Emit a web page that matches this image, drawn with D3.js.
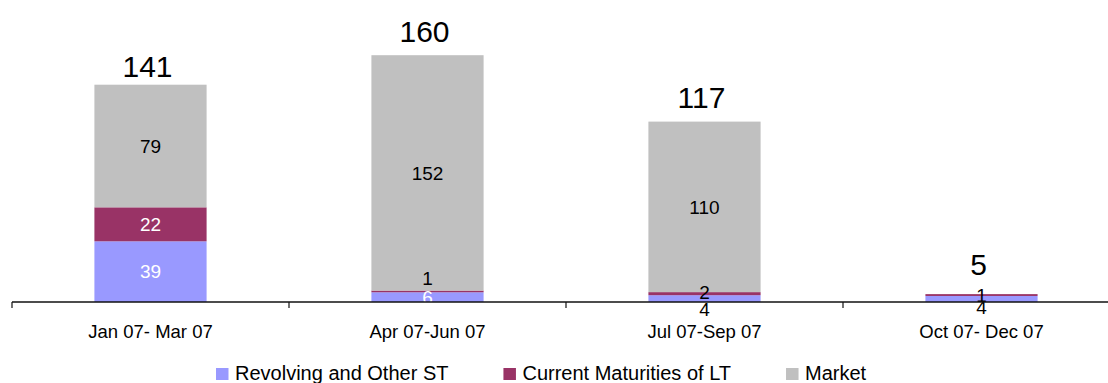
<!DOCTYPE html>
<html lang="en">
<head>
    <meta charset="UTF-8">
    <title>Debt by Quarter</title>
    <script src="https://d3js.org/d3.v7.min.js"></script>
    <style>
        body {
            margin: 0;
            padding: 0;
            background-color: #fff;
            overflow: hidden;
        }
        svg text {
            font-family: Arial, "Liberation Sans", sans-serif;
        }
    </style>
</head>
<body>
    <div id="chart"></div>

    <script>
        // Chart data
        const quarters = ["Jan 07- Mar 07", "Apr 07-Jun 07", "Jul 07-Sep 07", "Oct 07- Dec 07"];
        const seriesNames = ["Revolving and Other ST", "Current Maturities of LT", "Market"];
        const revolving = [39.3, 6.3, 4.4, 3.9];
        const currentLT = [22.0, 1.1, 2.0, 1.2];
        const market = [79.4, 152.4, 110.4, 0];

        const colors = ["#9999ff", "#993366", "#c0c0c0"];
        const labelColors = ["#fff", "#fff", "#000"];

        // manual label nudges for thin segments (px, [series][quarter])
        const labelNudge = [
            [0, 0, 10.5, 8],
            [0, -13.7, -1.5, 0],
            [0, 0, 0, 0]
        ];
        const darkLabel = [
            [false, false, true, true],
            [false, true, true, true],
            [true, true, true, true]
        ];
        // gap between bar top and total label baseline
        const totalGap = [8, 13, 14, 19];

        const width = 1108;
        const height = 383;
        const baseY = 302;

        const rows = quarters.map((q, i) => ({
            quarter: q,
            [seriesNames[0]]: revolving[i],
            [seriesNames[1]]: currentLT[i],
            [seriesNames[2]]: market[i]
        }));

        const stacked = d3.stack().keys(seriesNames)(rows);

        const svg = d3.select("#chart").append("svg")
            .attr("width", width)
            .attr("height", height);

        const x = d3.scaleBand()
            .domain(quarters)
            .range([12, 1120])
            .paddingInner(0.595)
            .paddingOuter(0.2975);

        const y = d3.scaleLinear()
            .domain([0, 180])
            .range([baseY, 24]);

        // bars
        const layer = svg.append("g")
            .selectAll("g")
            .data(stacked)
            .enter().append("g")
            .attr("fill", (d, i) => colors[i]);

        layer.selectAll("rect")
            .data(d => d)
            .enter().append("rect")
            .attr("x", d => x(d.data.quarter))
            .attr("width", x.bandwidth())
            .attr("y", d => y(d[1]))
            .attr("height", d => y(d[0]) - y(d[1]));

        // segment labels
        stacked.forEach((s, si) => {
            svg.append("g").selectAll("text")
                .data(s)
                .enter().append("text")
                .filter(d => d[1] - d[0] > 0)
                .attr("x", d => x(d.data.quarter) + x.bandwidth() / 2)
                .attr("y", d => (y(d[0]) + y(d[1])) / 2 + labelNudge[si][quarters.indexOf(d.data.quarter)])
                .attr("dy", "0.36em")
                .attr("text-anchor", "middle")
                .attr("font-size", "19px")
                .attr("fill", d => darkLabel[si][quarters.indexOf(d.data.quarter)] ? "#000" : labelColors[si])
                .text(d => Math.round(d[1] - d[0]));
        });

        // totals
        const totals = quarters.map((q, i) => revolving[i] + currentLT[i] + market[i]);
        svg.append("g").selectAll("text")
            .data(totals)
            .enter().append("text")
            .attr("x", (d, i) => x(quarters[i]) + x.bandwidth() / 2 - 3)
            .attr("y", (d, i) => y(d) - totalGap[i])
            .attr("text-anchor", "middle")
            .attr("font-size", "30px")
            .attr("fill", "#000")
            .text(d => Math.round(d));

        // category axis
        const axis = svg.append("g");
        axis.append("line")
            .attr("x1", x.range()[0])
            .attr("x2", x.range()[1])
            .attr("y1", baseY)
            .attr("y2", baseY)
            .attr("stroke", "#111")
            .attr("stroke-width", 1.6);

        axis.selectAll(".tick")
            .data(d3.range(quarters.length + 1))
            .enter().append("line")
            .attr("class", "tick")
            .attr("x1", i => x.range()[0] + i * x.step())
            .attr("x2", i => x.range()[0] + i * x.step())
            .attr("y1", baseY)
            .attr("y2", baseY + 6)
            .attr("stroke", "#111")
            .attr("stroke-width", 1.2);

        axis.selectAll(".cat")
            .data(quarters)
            .enter().append("text")
            .attr("class", "cat")
            .attr("x", d => x(d) + x.bandwidth() / 2)
            .attr("y", 338)
            .attr("text-anchor", "middle")
            .attr("font-size", "18.5px")
            .attr("fill", "#000")
            .text(d => d);

        // legend
        const legend = svg.append("g");
        let lx = 216;
        seriesNames.forEach((name, i) => {
            legend.append("rect")
                .attr("x", lx)
                .attr("y", 368)
                .attr("width", 12.5)
                .attr("height", 12)
                .attr("fill", colors[i]);
            const t = legend.append("text")
                .attr("x", lx + 19)
                .attr("y", 380)
                .attr("font-size", "20px")
                .attr("fill", "#000")
                .text(name);
            lx += 19 + t.node().getComputedTextLength() + 55;
        });
    </script>
</body>
</html>
